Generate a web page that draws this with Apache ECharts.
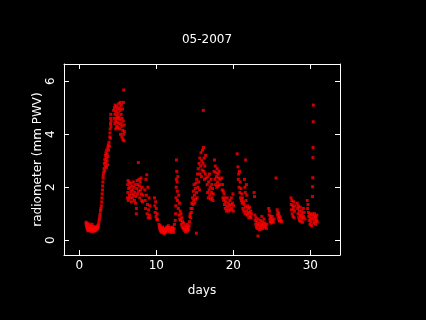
<!DOCTYPE html>
<html>
<head>
<meta charset="utf-8">
<script src="https://cdn.jsdelivr.net/npm/echarts@6/dist/echarts.min.js"></script>
<style>
  html, body { margin: 0; padding: 0; background: #000; }
  #main { width: 426px; height: 320px; }
</style>
</head>
<body>
<div id="main"></div>
<script>
var title = '05-2007';
var xName = 'days';
var yName = 'radiometer (mm PWV)';
var xTicks = [0, 10, 20, 30];
var yTicks = [0, 2, 4, 6];

// readings [day, pwv]
var lowStart = [[0.87,0.68],[0.88,0.6],[0.92,0.52],[0.96,0.64],[1.0,0.45],[1.04,0.58],[1.08,0.4],[1.12,0.36],[1.16,0.5],[1.2,0.44],[1.25,0.62],[1.3,0.38],[1.35,0.47],[1.4,0.55],[1.45,0.34],[1.5,0.42],[1.55,0.5],[1.6,0.38],[1.65,0.6],[1.7,0.44],[1.75,0.33],[1.8,0.4],[1.85,0.52],[1.9,0.37],[1.95,0.45],[2.0,0.35],[2.05,0.42],[2.1,0.5],[2.15,0.38],[2.2,0.45],[2.25,0.4],[2.3,0.5],[2.35,0.44],[2.4,0.55]];
var firstPeak = [[2.45,0.5],[2.5,0.62],[2.55,0.72],[2.6,0.8],[2.65,0.9],[2.7,1.0],[2.75,1.12],[2.8,1.2],[2.85,1.3],[2.9,1.45],[2.93,1.6],[2.96,1.75],[3.0,1.9],[3.02,2.05],[3.05,2.2],[3.08,2.35],[3.1,2.45],[3.15,2.55],
  [3.2,2.7],[3.25,2.9],[3.28,2.62],[3.3,3.05],[3.35,2.8],[3.4,3.2],[3.42,2.95],[3.45,3.3],[3.5,3.1],[3.52,2.75],[3.55,3.4],[3.6,3.0],[3.62,3.25],[3.65,2.85],[3.7,3.5],[3.72,3.15],[3.75,3.6],[3.8,3.4],[3.85,3.7],[3.9,3.55],[3.95,3.9],[3.97,4.05],[4.0,4.2],[4.02,3.85],[4.04,4.4],[4.06,4.6],[4.08,4.75],[4.1,4.3],[4.12,4.5],
  [4.45,4.9],[4.5,4.6],[4.55,5.0],[4.6,4.4],[4.62,4.75],[4.65,5.1],[4.7,4.5],[4.72,4.2],[4.75,4.85],[4.8,4.6],[4.82,5.05],[4.85,4.3],[4.9,4.7],[4.92,4.45],[4.95,4.95],[5.0,4.25],[5.02,4.6],[5.05,4.8],[5.1,5.15],[5.12,4.4],[5.15,4.65],[5.2,5.0],[5.22,4.2],[5.25,4.55],[5.3,4.9],[5.32,5.2],[5.35,4.0],[5.4,4.4],[5.42,4.75],[5.45,5.1],[5.5,4.3],[5.52,3.9],[5.55,4.6],[5.6,4.95],[5.62,4.15],[5.65,3.8],[5.7,4.5],[5.72,5.2],[5.75,4.0],[5.76,5.67],[5.8,3.75],[5.82,4.35],[5.85,4.1]];
var week2 = [[6.25,1.6],[6.28,2.1],[6.3,1.8],[6.32,2.25],[6.35,1.5],[6.4,1.95],[6.45,2.2],[6.5,1.7],[6.55,2.0],[6.6,1.6],[6.65,2.15],[6.7,1.85],[6.75,1.45],[6.8,1.75],[6.85,2.05],[6.9,1.6],[6.95,1.9],[7.0,2.2],[7.05,1.7],[7.1,2.0],[7.15,1.5],[7.2,1.8],[7.25,2.1],[7.3,1.4],[7.35,1.65],[7.4,1.0],[7.42,1.2],[7.45,1.95],[7.5,2.25],[7.55,1.75],[7.6,2.1],[7.66,2.93],[7.7,1.85],[7.75,2.3],[7.8,2.05],[7.85,1.6],[7.9,2.2],[7.95,1.9],[8.0,2.35],[8.05,1.75],[8.1,1.5],[8.15,2.0],[8.2,1.45],[8.25,1.7],
  [8.5,1.9],[8.55,1.5],[8.6,1.2],[8.65,2.3],[8.7,1.7],[8.75,2.47],[8.8,1.0],[8.85,1.35],[8.9,2.0],[8.95,0.85],[9.0,1.15],[9.05,1.6],[9.1,0.95],[9.15,1.3],[9.2,0.84],[9.75,1.6],[9.8,1.3],[9.85,1.05],[9.9,1.45],[9.95,0.9],[10.0,1.2],[10.05,0.8],[10.1,1.0],[10.15,0.78],
  [10.35,0.6],[10.4,0.5],[10.45,0.42],[10.5,0.55],[10.55,0.35],[10.6,0.45],[10.65,0.3],[10.7,0.38],[10.8,0.5],[10.85,0.42],[10.9,0.3],[10.95,0.36],[11.0,0.25],[11.05,0.33],[11.1,0.45],[11.15,0.38],[11.2,0.3],[11.3,0.42],[11.35,0.5],[11.4,0.35],[11.5,0.45],[11.55,0.55],[11.6,0.4],[11.7,0.33],[11.75,0.48],[11.8,0.4],[11.9,0.3],[11.95,0.38],[12.0,0.45],[12.05,0.35],[12.1,0.5],[12.2,0.4],[12.25,0.3],[12.3,0.45],[12.35,0.6]];
var week3 = [[12.45,0.75],[12.5,1.0],[12.52,1.3],[12.55,1.6],[12.58,2.0],[12.6,2.3],[12.62,3.03],[12.65,2.6],[12.7,2.2],[12.72,1.85],[12.75,1.5],[12.8,2.4],[12.85,1.2],[12.9,1.7],[12.95,0.95],[13.0,1.4],[13.05,0.8],[13.1,1.1],[13.15,0.75],[13.2,1.0],[13.25,0.6],[13.3,0.85],[13.35,0.5],[13.4,0.7],[13.5,0.45],[13.55,0.65],[13.6,0.38],[13.7,0.55],[13.75,0.42],[13.8,0.32],[13.9,0.5],[13.95,0.4],[14.0,0.6],[14.05,0.35],[14.1,0.48],[14.2,0.4],[14.25,0.55],[14.3,0.7],[14.35,0.9],[14.4,1.0],[14.45,0.85],[14.5,1.2],[14.55,1.05],[14.6,1.4],[14.65,1.2],[14.7,1.6],[14.75,1.35],[14.8,1.85],[14.85,1.5],[14.9,2.1],[14.95,1.7],[15.0,1.4],[15.05,1.95],[15.1,1.55],[15.15,2.16],
  [15.2,0.27],[15.22,1.8],[15.25,2.3],[15.3,1.6],[15.35,2.5],[15.4,2.0],[15.45,2.7],[15.5,2.2],[15.55,2.9],[15.6,1.9],[15.65,3.1],[15.7,2.5],[15.75,2.8],[15.8,3.3],[15.85,2.4],[15.9,3.0],[15.95,2.65],[16.0,3.4],[16.05,2.9],[16.1,4.9],[16.12,3.5],[16.15,2.6],[16.2,3.1],[16.25,2.3],[16.3,2.8],[16.35,2.5],[16.4,3.2],[16.45,2.35],
  [16.6,2.1],[16.65,1.8],[16.7,2.4],[16.75,1.6],[16.8,2.2],[16.85,1.9],[16.9,2.5],[16.95,1.7],[17.0,2.0],[17.05,1.55],[17.1,2.3],[17.15,1.8],[17.2,2.1],[17.25,1.6],[17.3,1.95],[17.35,1.5],[17.4,1.75],
  [17.5,2.6],[17.55,3.03],[17.6,2.3],[17.65,2.8],[17.7,2.1],[17.75,2.55],[17.8,2.4],[17.85,2.0],[17.9,2.7],[17.95,2.2],[18.0,2.5],[18.05,2.05],[18.1,2.35],[18.15,2.6],[18.2,2.1],[18.3,2.3]];
var week4 = [[18.5,2.35],[18.55,1.9],[18.6,2.1],[18.65,1.6],[18.7,1.85],[18.75,1.5],[18.8,1.75],[18.85,1.35],[18.9,1.6],[18.95,1.2],[19.0,1.45],[19.1,1.1],[19.15,1.3],[19.2,1.6],[19.3,1.2],[19.35,1.4],[19.4,1.1],[19.5,1.3],[19.55,1.5],[19.6,1.15],[19.7,1.35],[19.75,1.6],[19.8,1.2],[19.9,1.4],[19.95,1.75],[20.0,1.1],[20.05,1.3],
  [20.5,3.26],[20.6,2.77],[20.65,2.3],[20.7,2.5],[20.75,2.0],[20.8,2.6],[20.85,1.8],[20.9,2.2],[20.95,1.6],[21.0,1.95],[21.05,1.5],[21.1,1.75],[21.15,1.4],[21.2,1.6],[21.25,1.2],[21.3,1.45],[21.35,1.1],[21.4,1.35],[21.45,2.3],[21.5,2.0],[21.52,1.0],[21.55,1.8],[21.58,1.25],[21.6,3.03],[21.65,1.5],[21.7,2.1],[21.72,1.1],[21.75,1.7],[21.8,0.95],[21.85,1.3],[21.9,1.0],[21.95,1.2],[22.0,0.85],[22.05,1.05],[22.1,1.25],[22.2,0.9],[22.25,1.1],[22.3,0.85],[22.35,1.0],
  [22.7,1.8],[22.75,1.65],[22.8,0.95],[22.85,0.75],[22.9,0.6],[22.95,0.85],[23.0,0.5],[23.05,0.7],[23.1,0.45],[23.15,0.6],[23.2,0.16],[23.25,0.8],[23.3,0.55],[23.35,0.4],[23.4,0.65],[23.5,0.5],[23.55,0.75],[23.6,0.42],[23.65,0.6],[23.7,0.9],[23.75,0.55],[23.8,0.7],[23.85,0.45],[23.9,0.6],[24.0,0.8],[24.05,0.5],[24.1,0.65],[24.2,0.55],[24.3,0.45],[24.35,0.6],
  [24.6,1.2],[24.65,0.95],[24.7,1.1],[24.75,0.8],[24.8,0.7],[24.85,0.9],[24.9,0.65],[24.95,0.8],[25.0,0.7],[25.05,0.9],[25.1,0.75],[25.2,0.68],[25.3,0.8],[25.55,2.35],[25.7,1.15],[25.75,0.95],[25.8,1.05],[25.85,0.85],[25.9,1.0],[25.95,0.75],[26.0,0.9],[26.05,0.72],[26.1,0.85],[26.2,0.75],[26.25,0.7]];
var monthEnd = [[27.5,1.6],[27.52,1.35],[27.55,1.15],[27.6,1.5],[27.65,1.0],[27.7,1.3],[27.75,0.9],[27.8,1.2],[27.85,1.45],[27.9,0.85],[27.95,1.1],[28.0,1.3],[28.3,1.4],[28.35,1.2],[28.4,1.0],[28.45,1.3],[28.5,0.85],[28.55,1.1],[28.6,0.75],[28.65,0.95],[28.7,1.25],[28.75,0.7],[28.8,0.9],[28.85,1.1],[28.9,0.8],[28.95,1.0],[29.0,0.68],[29.05,0.85],[29.1,1.2],[29.15,0.9],[29.2,1.05],[29.3,0.8],
  [29.6,1.5],[29.65,1.2],[29.7,1.35],[29.75,1.05],[29.8,0.9],[29.85,0.75],[29.9,1.0],[29.95,0.6],[30.0,0.85],[30.05,0.7],[30.1,0.95],[30.15,0.55],[30.2,0.8],[30.25,1.0],[30.28,1.65],[30.3,2.02],[30.32,2.36],[30.34,3.12],[30.36,3.5],[30.38,4.47],[30.4,5.1],[30.42,0.9],[30.45,0.65],[30.5,0.8],[30.55,1.0],[30.6,0.7],[30.65,0.9],[30.7,0.6],[30.75,0.85],[30.8,0.75],[30.85,0.95],[30.9,0.7]];

var points = lowStart.concat(firstPeak, week2, week3, week4, monthEnd);

var font = 'DejaVu Sans';
var chart = echarts.init(document.getElementById('main'), null, { renderer: 'canvas' });

function boxAxis(pos, min, max, ticks, withLabels) {
  return {
    type: 'value',
    position: pos,
    min: min,
    max: max,
    axisLine: { show: true, onZero: false, lineStyle: { color: '#fff', width: 1 } },
    axisTick: { show: true, inside: true, length: 5, customValues: ticks, lineStyle: { color: '#fff', width: 1 } },
    axisLabel: { show: withLabels, customValues: ticks, color: '#fff', fontFamily: font, fontSize: 12 },
    splitLine: { show: false }
  };
}

var xBottom = boxAxis('bottom', -2, 33.86, xTicks, true);
xBottom.axisLabel.margin = 5;
xBottom.name = xName;
xBottom.nameLocation = 'middle';
xBottom.nameGap = 30;
xBottom.nameMoveOverlap = false;
xBottom.nameTextStyle = { color: '#fff', fontFamily: font, fontSize: 12 };

var yLeft = boxAxis('left', -0.555, 6.65, yTicks, true);
yLeft.axisLabel.rotate = 90;
yLeft.axisLabel.margin = 7;
yLeft.name = yName;
yLeft.nameLocation = 'middle';
yLeft.nameGap = 20;
yLeft.nameMoveOverlap = false;
yLeft.nameTextStyle = { color: '#fff', fontFamily: font, fontSize: 12 };

var option = {
  backgroundColor: '#000',
  animation: false,
  title: {
    text: title,
    left: 202,
    textAlign: 'center',
    top: 29,
    textStyle: { color: '#fff', fontFamily: font, fontSize: 12, fontWeight: 'normal' }
  },
  grid: { left: 64, right: 86, top: 64, bottom: 65, containLabel: false },
  xAxis: [xBottom, boxAxis('top', -2, 33.86, xTicks, false)],
  yAxis: [yLeft, boxAxis('right', -0.555, 6.65, yTicks, false)],
  series: [{
    type: 'scatter',
    data: points,
    symbol: 'rect',
    symbolSize: 3,
    itemStyle: { color: '#ff0000' }
  }]
};
chart.setOption(option);
</script>
</body>
</html>
